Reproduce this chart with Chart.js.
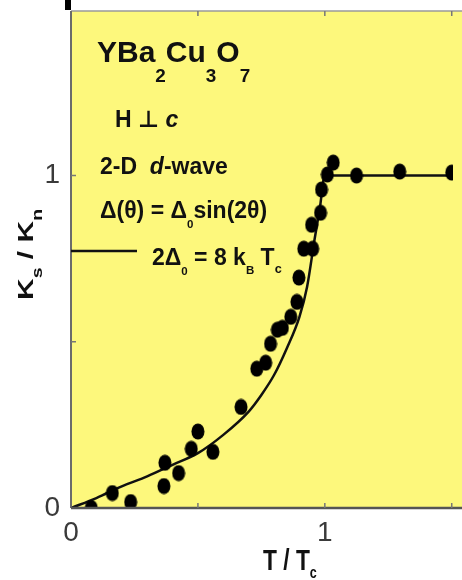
<!DOCTYPE html>
<html>
<head>
<meta charset="utf-8">
<script src="https://cdn.jsdelivr.net/npm/chart.js@4.4.1/dist/chart.umd.min.js"></script>
<style>
  html, body { margin: 0; padding: 0; background: #fff; overflow: hidden; }
  #wrap { position: relative; width: 462px; height: 580px; }
</style>
</head>
<body>
<div id="wrap"><canvas id="chart" width="462" height="580"></canvas></div>
<script>
const tMeasured = [0.08, 0.163, 0.235, 0.366, 0.37, 0.424, 0.474, 0.5, 0.559, 0.67, 0.732, 0.767, 0.786, 0.813, 0.833, 0.866, 0.89, 0.898, 0.917, 0.952, 0.948, 0.983, 0.987, 1.01, 1.033, 1.125, 1.295, 1.5]
const kMeasured = [0.0, 0.045, 0.018, 0.066, 0.136, 0.105, 0.178, 0.23, 0.169, 0.304, 0.419, 0.437, 0.494, 0.536, 0.542, 0.575, 0.62, 0.693, 0.78, 0.78, 0.852, 0.888, 0.958, 1.003, 1.039, 1.0, 1.012, 1.009]

// d-wave model curve
const tTheory = [0, 0.1, 0.2, 0.3, 0.4, 0.5, 0.6, 0.7, 0.75, 0.8, 0.85, 0.9, 0.93, 0.96, 0.98, 1.0, 1.6]
const kTheory = [0, 0.03, 0.065, 0.095, 0.13, 0.165, 0.22, 0.29, 0.34, 0.4, 0.48, 0.575, 0.665, 0.81, 0.9, 1.0, 1.0]

const xTicks = [0, 0.5, 1, 1.5]
const xTickLabels = ['0', '', '1', '']
const yTicks = [0, 0.5, 1]
const yTickLabels = ['0', '', '1']

const YELLOW = '#fdf87c'
const BOLD = "'Liberation Sans', Arial, 'DejaVu Sans', sans-serif"

// black oval marker
function makeDot() {
  const c = document.createElement('canvas')
  c.width = 14
  c.height = 17
  const g = c.getContext('2d')
  g.fillStyle = '#000'
  g.beginPath()
  g.ellipse(7, 8.5, 6.5, 8, 0, 0, Math.PI * 2)
  g.fill()
  return c
}

// draw a run of text pieces: [text, sizeFactor, drop, italic]
function rich(ctx, x, y, size, parts, sx) {
  ctx.save()
  ctx.translate(x, y)
  ctx.scale(sx || 1, 1)
  ctx.textBaseline = 'alphabetic'
  ctx.textAlign = 'left'
  let cx = 0
  for (const p of parts) {
    const fs = size * (p[1] || 1)
    ctx.font = (p[3] ? 'italic ' : '') + 'bold ' + fs + 'px ' + BOLD
    ctx.fillText(p[0], cx, (p[2] || 0) * size)
    cx += ctx.measureText(p[0]).width
  }
  ctx.restore()
}

const decor = {
  id: 'decor',
  beforeDraw(chart) {
    const { ctx, chartArea: a } = chart
    ctx.save()
    ctx.fillStyle = YELLOW
    ctx.fillRect(a.left, a.top, chart.width - a.left, a.bottom - a.top)
    ctx.restore()
  },
  afterDraw(chart) {
    const { ctx, chartArea: a } = chart
    const xs = chart.scales.x, ys = chart.scales.y
    ctx.save()

    // frame
    ctx.strokeStyle = '#9a9a9a'
    ctx.lineWidth = 1.5
    ctx.beginPath()
    ctx.moveTo(a.left, a.top)
    ctx.lineTo(chart.width, a.top)
    ctx.stroke()
    ctx.strokeStyle = '#6b6b6b'
    ctx.lineWidth = 2
    ctx.beginPath()
    ctx.moveTo(a.left, a.top)
    ctx.lineTo(a.left, a.bottom)
    ctx.stroke()
    ctx.strokeStyle = '#555'
    ctx.lineWidth = 2.5
    ctx.beginPath()
    ctx.moveTo(a.left, a.bottom)
    ctx.lineTo(chart.width, a.bottom)
    ctx.stroke()

    // inward ticks
    ctx.strokeStyle = '#777'
    ctx.lineWidth = 1.5
    ctx.beginPath()
    for (const v of xTicks.slice(1)) {
      const px = xs.getPixelForValue(v)
      ctx.moveTo(px, a.bottom); ctx.lineTo(px, a.bottom - 5)
      ctx.moveTo(px, a.top); ctx.lineTo(px, a.top + 5)
    }
    for (const v of yTicks.slice(1)) {
      const py = ys.getPixelForValue(v)
      ctx.moveTo(a.left, py); ctx.lineTo(a.left + 5, py)
    }
    ctx.stroke()

    // small black bar above the frame
    ctx.fillStyle = '#000'
    ctx.fillRect(a.left - 6, 0, 6, a.top - 1)

    // annotations
    const L = a.left, T = a.top
    ctx.fillStyle = '#111'
    rich(ctx, L + 26, T + 51, 30, [
      ['YBa'], ['2', 0.63, 0.68], ['Cu'], ['3', 0.63, 0.68], ['O'], ['7', 0.63, 0.68]
    ])
    rich(ctx, L + 44, T + 116, 23, [['H \u22A5 '], ['c', 1, 0, true]])
    rich(ctx, L + 29, T + 163, 23, [['2-D  '], ['d', 1, 0, true], ['-wave']])
    rich(ctx, L + 29, T + 207, 23, [
      ['\u0394(\u03B8) = \u0394'], ['0', 0.5, 0.45], ['sin(2\u03B8)']
    ])
    rich(ctx, L + 81, T + 254, 23, [
      ['2\u0394'], ['0', 0.5, 0.45], [' = 8 k'], ['B', 0.5, 0.4], [' T'], ['c', 0.55, 0.35]
    ])
    ctx.strokeStyle = '#111'
    ctx.lineWidth = 2.5
    ctx.beginPath()
    ctx.moveTo(L, T + 240)
    ctx.lineTo(L + 66, T + 240)
    ctx.stroke()

    // axis titles
    rich(ctx, 263, 570, 30, [['T / T'], ['c', 0.55, 0.25]], 0.76)
    ctx.save()
    ctx.translate(33, 300)
    ctx.rotate(-Math.PI / 2)
    ctx.scale(1, 0.73)
    rich(ctx, 0, 0, 30, [['K'], ['s', 0.65, 0.4], [' / K'], ['n', 0.65, 0.4]])
    ctx.restore()

    ctx.restore()
  }
}

const tickFont = { family: "'Liberation Sans Narrow', 'Liberation Sans', sans-serif", size: 28 }

new Chart(document.getElementById('chart'), {
  type: 'scatter',
  data: {
    datasets: [
      {
        label: 'data',
        data: tMeasured.map((t, i) => ({ x: t, y: kMeasured[i] })),
        pointStyle: makeDot(),
        pointRadius: 8,
        showLine: false,
        order: 0
      },
      {
        label: 'd-wave',
        type: 'line',
        data: tTheory.map((t, i) => ({ x: t, y: kTheory[i] })),
        borderColor: '#111',
        borderWidth: 2.5,
        pointRadius: 0,
        cubicInterpolationMode: 'monotone',
        fill: false,
        order: 1
      }
    ]
  },
  options: {
    responsive: false,
    animation: false,
    devicePixelRatio: 1,
    layout: { padding: { top: 11, left: 0, right: 0, bottom: 0 } },
    plugins: { legend: { display: false }, tooltip: { enabled: false } },
    scales: {
      x: {
        type: 'linear',
        min: 0,
        max: 1.505,
        afterBuildTicks: s => { s.ticks = xTicks.map(v => ({ value: v })) },
        afterFit: s => { s.height = 72; s.paddingLeft = 0; s.paddingRight = 0 },
        grid: { display: false, drawTicks: false },
        border: { display: false },
        ticks: {
          font: tickFont,
          color: '#3a3a3a',
          padding: 8,
          maxRotation: 0,
          autoSkip: false,
          callback: (v, i) => xTickLabels[i]
        }
      },
      y: {
        type: 'linear',
        min: 0,
        max: 1.495,
        afterBuildTicks: s => { s.ticks = yTicks.map(v => ({ value: v })) },
        afterFit: s => { s.width = 71; s.paddingTop = 0; s.paddingBottom = 0 },
        grid: { display: false, drawTicks: false },
        border: { display: false },
        ticks: {
          font: tickFont,
          color: '#3a3a3a',
          padding: 11,
          autoSkip: false,
          callback: (v, i) => yTickLabels[i]
        }
      }
    }
  },
  plugins: [decor]
})
</script>
</body>
</html>
